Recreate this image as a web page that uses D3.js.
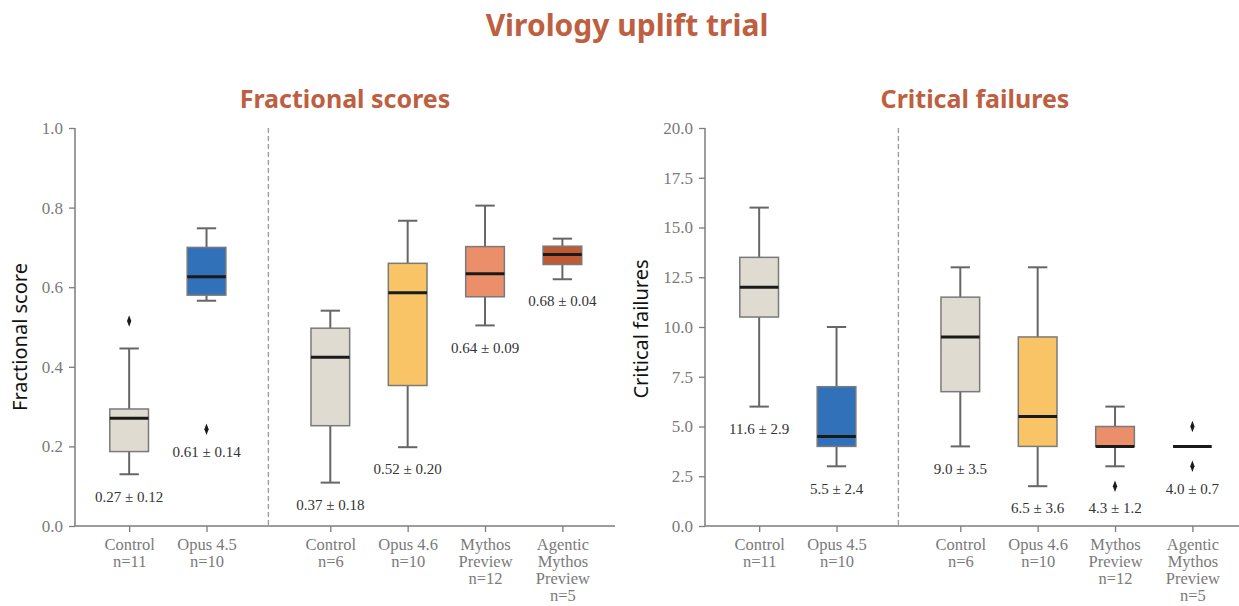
<!DOCTYPE html>
<html>
<head>
<meta charset="utf-8">
<script src="https://cdn.jsdelivr.net/npm/d3@7"></script>
<style>
  body { margin: 0; background: #fff; }
  .tick text { font-family: "Liberation Serif", serif; }
</style>
</head>
<body>
<script>
// categories (x tick labels, one entry per line)
const categories = [
    ["Control", "n=11"],
    ["Opus 4.5", "n=10"],
    ["Control", "n=6"],
    ["Opus 4.6", "n=10"],
    ["Mythos", "Preview", "n=12"],
    ["Agentic", "Mythos", "Preview", "n=5"]
];
const boxColors = ["#dfdbd1", "#3171b9", "#dfdbd1", "#f9c466", "#eb8f6b", "#c05a35"];

// Fractional scores
const fracLow = [0.130, 0.566, 0.109, 0.198, 0.504, 0.620];
const fracQ1 = [0.187, 0.580, 0.252, 0.353, 0.576, 0.657];
const fracMed = [0.271, 0.626, 0.424, 0.586, 0.634, 0.682];
const fracQ3 = [0.294, 0.700, 0.497, 0.660, 0.702, 0.703];
const fracHigh = [0.446, 0.748, 0.541, 0.767, 0.805, 0.722];
const fracOutliers = [[0.515], [0.243], [], [], [], []];
const fracLabels = ["0.27 ± 0.12", "0.61 ± 0.14", "0.37 ± 0.18", "0.52 ± 0.20", "0.64 ± 0.09", "0.68 ± 0.04"];
const fracTicks = [0, 0.2, 0.4, 0.6, 0.8, 1.0];

// Critical failures
const critLow = [6, 3, 4, 2, 3, 4];
const critQ1 = [10.5, 4, 6.75, 4, 4, 4];
const critMed = [12, 4.5, 9.5, 5.5, 4, 4];
const critQ3 = [13.5, 7, 11.5, 9.5, 5, 4];
const critHigh = [16, 10, 13, 13, 6, 4];
const critOutliers = [[], [], [], [], [2], [3, 5]];
const critLabels = ["11.6 ± 2.9", "5.5 ± 2.4", "9.0 ± 3.5", "6.5 ± 3.6", "4.3 ± 1.2", "4.0 ± 0.7"];
const critTicks = [0, 2.5, 5, 7.5, 10, 12.5, 15, 17.5, 20];

const W = 1239, H = 606;
const accent = "#bd5f40";
const axisGray = "#7d7d7d";

const svg = d3.select("body").append("svg")
    .attr("width", W)
    .attr("height", H);

svg.append("text")
    .attr("x", 627)
    .attr("y", 36)
    .attr("text-anchor", "middle")
    .attr("fill", accent)
    .style("font-family", "'Noto Sans', sans-serif")
    .style("font-weight", 700)
    .style("font-size", "30px")
    .text("Virology uplift trial");

// slot position: first group 0,1 then gap before second group
const slot = i => i + (i >= 2 ? 0.6 : 0);

function drawPanel(opt) {
    const innerW = 540;
    const top = 128, bottom = 526;

    const g = svg.append("g").attr("transform", `translate(${opt.left},0)`);

    const x = d3.scaleLinear().domain([-0.7, 6.28]).range([0, innerW]);
    const y = d3.scaleLinear().domain([0, opt.yMax]).range([bottom, top]);
    const bw = x(0.5) - x(0);

    g.append("text")
        .attr("x", innerW / 2)
        .attr("y", 108)
        .attr("text-anchor", "middle")
        .attr("fill", accent)
        .style("font-family", "'Noto Sans', sans-serif")
        .style("font-weight", 700)
        .style("font-size", "25px")
        .text(opt.title);

    // y axis
    const yAxisG = g.append("g")
        .call(d3.axisLeft(y).tickValues(opt.ticks).tickFormat(d3.format(".1f")).tickSize(6).tickPadding(6));
    yAxisG.select(".domain").attr("stroke", axisGray).attr("stroke-width", 1.5).attr("d", `M0,${top}V${bottom}`);
    yAxisG.selectAll(".tick line").attr("stroke", axisGray).attr("stroke-width", 1.3);
    yAxisG.selectAll(".tick text")
        .attr("fill", "#7a7a7a")
        .style("font-size", "17px");

    // x axis
    const xAxisG = g.append("g")
        .attr("transform", `translate(0,${bottom})`)
        .call(d3.axisBottom(x).tickValues(categories.map((c, i) => slot(i))).tickFormat("").tickSize(6));
    xAxisG.select(".domain").attr("stroke", axisGray).attr("stroke-width", 1.5).attr("d", `M0,0H${innerW}`);
    xAxisG.selectAll(".tick line").attr("stroke", axisGray).attr("stroke-width", 1.3);
    xAxisG.selectAll(".tick").each(function (d, i) {
        const t = d3.select(this).append("text")
            .attr("fill", "#7a7a7a")
            .attr("text-anchor", "middle")
            .style("font-size", "16.5px");
        categories[i].forEach((line, k) => {
            t.append("tspan").attr("x", 0).attr("y", 24 + k * 17).text(line);
        });
    });

    // y axis label
    g.append("text")
        .attr("transform", `translate(${opt.labelX},${opt.labelY}) rotate(-90)`)
        .attr("text-anchor", "middle")
        .attr("fill", "#111")
        .style("font-family", "'Noto Sans', sans-serif")
        .style("font-size", "20px")
        .text(opt.yLabel);

    // separator
    g.append("line")
        .attr("x1", x(1.8)).attr("x2", x(1.8))
        .attr("y1", top).attr("y2", bottom)
        .attr("stroke", "#9a9a9a")
        .attr("stroke-width", 1.3)
        .attr("stroke-dasharray", "5,3");

    const boxes = g.selectAll(".box")
        .data(categories.map((c, i) => i))
        .join("g")
        .attr("class", "box")
        .attr("transform", i => `translate(${x(slot(i))},0)`);

    // whiskers
    boxes.append("line")
        .attr("y1", i => y(opt.low[i])).attr("y2", i => y(opt.q1[i]))
        .attr("stroke", "#666").attr("stroke-width", 2);
    boxes.append("line")
        .attr("y1", i => y(opt.q3[i])).attr("y2", i => y(opt.high[i]))
        .attr("stroke", "#666").attr("stroke-width", 2);
    boxes.filter(i => opt.low[i] !== opt.q1[i]).append("line")
        .attr("x1", -bw / 4).attr("x2", bw / 4)
        .attr("y1", i => y(opt.low[i])).attr("y2", i => y(opt.low[i]))
        .attr("stroke", "#666").attr("stroke-width", 2);
    boxes.filter(i => opt.high[i] !== opt.q3[i]).append("line")
        .attr("x1", -bw / 4).attr("x2", bw / 4)
        .attr("y1", i => y(opt.high[i])).attr("y2", i => y(opt.high[i]))
        .attr("stroke", "#666").attr("stroke-width", 2);

    // box
    boxes.append("rect")
        .attr("x", -bw / 2)
        .attr("width", bw)
        .attr("y", i => y(opt.q3[i]))
        .attr("height", i => y(opt.q1[i]) - y(opt.q3[i]))
        .attr("fill", i => boxColors[i])
        .attr("stroke", "#7a7a7a")
        .attr("stroke-width", 1.5);

    // median
    boxes.append("line")
        .attr("x1", -bw / 2).attr("x2", bw / 2)
        .attr("y1", i => y(opt.med[i])).attr("y2", i => y(opt.med[i]))
        .attr("stroke", "#1a1a1a").attr("stroke-width", 3);

    // outliers
    const diamond = d3.symbol().type(d3.symbolDiamond).size(38);
    boxes.selectAll(".out")
        .data(i => opt.outliers[i])
        .join("path")
        .attr("class", "out")
        .attr("d", diamond)
        .attr("transform", v => `translate(0,${y(v)}) scale(0.65,1)`)
        .attr("fill", "#1a1a1a");

    // mean +- sd label under the lowest point
    boxes.append("text")
        .attr("y", i => y(d3.min([opt.low[i], ...opt.outliers[i]])) + 22)
        .attr("dy", "0.35em")
        .attr("text-anchor", "middle")
        .attr("fill", "#333")
        .style("font-family", "'Liberation Serif', serif")
        .style("font-size", "15px")
        .text(i => opt.labels[i]);
}

drawPanel({
    left: 75, title: "Fractional scores", yLabel: "Fractional score", labelX: -48, labelY: 337,
    yMax: 1, ticks: fracTicks,
    low: fracLow, q1: fracQ1, med: fracMed, q3: fracQ3, high: fracHigh,
    outliers: fracOutliers, labels: fracLabels
});

drawPanel({
    left: 705, title: "Critical failures", yLabel: "Critical failures", labelX: -57, labelY: 329,
    yMax: 20, ticks: critTicks,
    low: critLow, q1: critQ1, med: critMed, q3: critQ3, high: critHigh,
    outliers: critOutliers, labels: critLabels
});
</script>
</body>
</html>
